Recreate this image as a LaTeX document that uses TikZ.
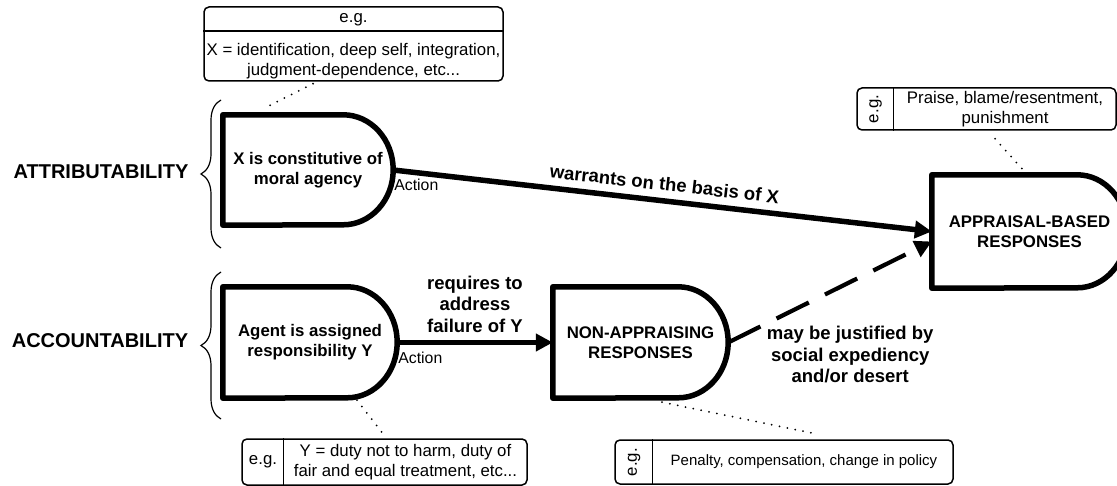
\documentclass[tikz,border=0pt]{standalone}
\usepackage{fontspec}
\setmainfont{Liberation Sans}
\usetikzlibrary{arrows.meta,decorations.pathreplacing}
\begin{document}
\begin{tikzpicture}[x=1pt,y=-1pt,
  shapebox/.style={inner sep=0pt, align=center, font=\fontsize{16.8}{20}\selectfont\bfseries},
  dshape/.style={line width=5.5pt, line join=round},
  conn/.style={line width=5.5pt, -{Triangle[length=17pt,width=17pt]}},
  dconn/.style={line width=4.2pt, dash pattern=on 36pt off 18pt, -{Triangle[length=17pt,width=17pt]}},
  elabel/.style={font=\fontsize{18.5}{21.5}\selectfont\bfseries, align=center},
  cat/.style={font=\fontsize{20}{24}\selectfont\bfseries, inner sep=0pt},
  ann/.style={draw, line width=1.5pt, rounded corners=5pt, inner sep=0pt},
  anntext/.style={font=\fontsize{16.8}{19.5}\selectfont, align=center, inner sep=0pt},
  dots/.style={line width=2pt, dash pattern=on 0pt off 8pt, line cap=round},
  actlabel/.style={font=\fontsize{15.8}{18}\selectfont, inner sep=1pt},
  bracestyle/.style={decorate, decoration={brace, amplitude=20pt}, line width=1.2pt}
]
\clip (0,0) rectangle (1117,486);

% main shapes
\node[shapebox, minimum width=170pt, minimum height=110pt] (X) at (308,170) {X is constitutive of\\moral agency};
\node[shapebox, minimum width=174pt, minimum height=111pt] (AG) at (310,342.5) {Agent is assigned\\responsibility Y};
\node[shapebox, minimum width=175pt, minimum height=111pt] (NA) at (640.5,342.5) {NON-APPRAISING\\RESPONSES};
\node[shapebox, minimum width=195pt, minimum height=113pt] (AP) at (1029.5,231.5) {APPRAISAL-BASED\\RESPONSES};

\foreach \n/\ry in {X/55,AG/55.5,NA/55.5,AP/56.5}
  \draw[dshape] (\n.north west) -- ([xshift=-50pt]\n.north east)
    arc[start angle=90, end angle=-90, x radius=50pt, y radius=\ry pt]
    -- (\n.south west) -- cycle;

% category labels and braces
\node[cat] (ATT) at (101,172) {ATTRIBUTABILITY};
\node[cat] (ACC) at (100,341) {ACCOUNTABILITY};
\coordinate (B1a) at (221,248);
\coordinate (B1b) at (221,100);
\coordinate (B2a) at (221,419);
\coordinate (B2b) at (221,272);
\draw[bracestyle] (B1a) -- (B1b);
\draw[bracestyle] (B2a) -- (B2b);

% connectors
\draw[conn] (X.east) -- node[elabel, sloped, above=4pt, pos=0.5] (L1) {warrants on the basis of X} (AP.west);
\draw[conn] (AG.east) -- node[elabel, above=4pt, pos=0.5] (L2) {requires to\\address\\failure of Y} (NA.west);
\draw[dconn] (NA.east) -- node[elabel, inner sep=0pt, anchor=north west, pos=0.18] (L3) {may be justified by\\social expediency\\and/or desert} ([yshift=-10pt]AP.west);

\node[actlabel, anchor=north west] (XA) at ([yshift=-8pt]X.east) {Action};
\node[actlabel, anchor=north west] (AGA) at ([yshift=-8pt]AG.east) {Action};

% annotation boxes
\node[ann, minimum width=299pt, minimum height=74pt] (E1) at (353.5,44) {};
\draw[line width=1.5pt] ([yshift=-25pt]E1.north west) -- ([yshift=-25pt]E1.north east);
\node[anntext] (E1a) at (353.5,19.5) {e.g.};
\node[anntext] (E1b) at (353.5,61) {X = identification, deep self, integration,\\judgment-dependence, etc...};

\node[ann, minimum width=285pt, minimum height=46pt] (E2) at (384.5,462) {};
\draw[line width=1.5pt] ([xshift=42pt]E2.north west) -- ([xshift=42pt]E2.south west);
\node[anntext] (E2a) at (263,462) {e.g.};
\node[anntext] (E2b) at (405.5,462) {Y = duty not to harm, duty of\\fair and equal treatment, etc...};

\node[ann, minimum width=338pt, minimum height=44pt] (E3) at (784,462) {};
\draw[line width=1.5pt] ([xshift=38pt]E3.north west) -- ([xshift=38pt]E3.south west);
\node[anntext, rotate=90] (E3a) at (634,462) {e.g.};
\node[anntext, font=\fontsize{15}{18}\selectfont] (E3b) at (804,462) {Penalty, compensation, change in policy};

\node[ann, minimum width=259pt, minimum height=42pt] (E4) at (986.5,109) {};
\draw[line width=1.5pt] ([xshift=37pt]E4.north west) -- ([xshift=37pt]E4.south west);
\node[anntext, rotate=90] (E4a) at (875.5,109) {e.g.};
\node[anntext] (E4b) at (1005,109) {Praise, blame/resentment,\\punishment};

% dotted links
\draw[dots] ([xshift=-40.5pt,yshift=-2pt]E1.south) -- ([xshift=-41pt,yshift=8pt]X.north);
\draw[dots] ([xshift=47pt,yshift=-2pt]AG.south) -- ([xshift=0.5pt,yshift=2pt]E2.north);
\draw[dots] ([xshift=21.5pt,yshift=-4pt]NA.south) -- ([xshift=34pt,yshift=5pt]E3.north);
\draw[dots] ([xshift=8.5pt,yshift=-8pt]E4.south) -- ([xshift=-6.5pt,yshift=5pt]AP.north);
\end{tikzpicture}
\end{document}
